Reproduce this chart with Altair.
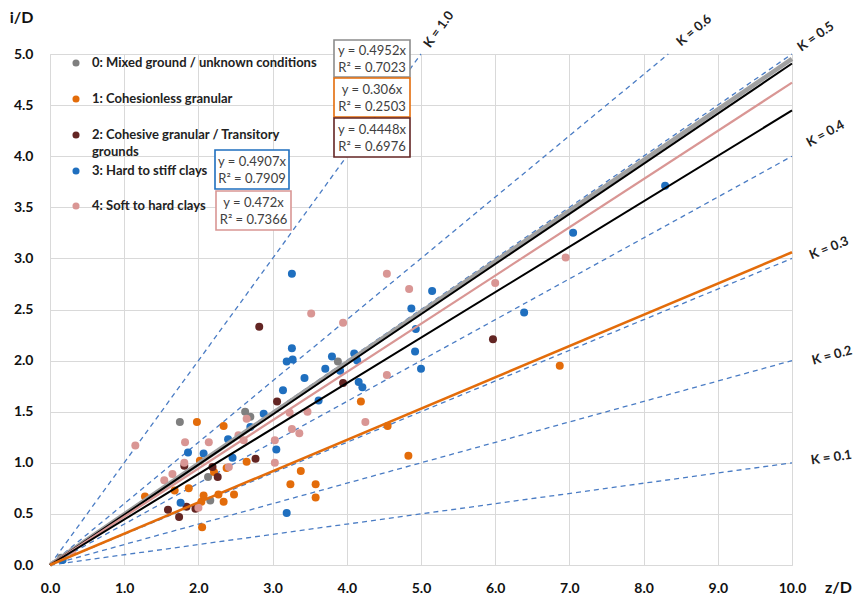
import altair as alt
import pandas as pd

# ---------------- data ----------------
series_names = ["0: Mixed ground / unknown conditions", "1: Cohesionless granular",
                "2: Cohesive granular / Transitory grounds", "3: Hard to stiff clays",
                "4: Soft to hard clays"]
series_colors = ["#7F7F7F", "#E36C0A", "#632523", "#1F6FBF", "#D99694"]

gray_x = [0.15, 1.75, 2.13, 2.16, 2.63, 2.70, 3.88]
gray_y = [0.07, 1.40, 0.86, 0.63, 1.50, 1.45, 1.99]

orange_x = [1.28, 1.68, 1.87, 1.98, 2.02, 2.04, 2.05, 2.07, 2.21, 2.27, 2.34, 2.34, 2.38,
            2.48, 2.65, 3.24, 3.38, 3.58, 3.58, 4.19, 4.55, 4.83, 6.87]
orange_y = [0.67, 0.73, 0.75, 1.40, 1.02, 0.62, 0.37, 0.68, 0.91, 0.69, 1.36, 0.62, 0.95,
            0.69, 1.01, 0.79, 0.92, 0.79, 0.66, 1.60, 1.36, 1.07, 1.95]

brown_x = [1.59, 1.74, 1.81, 1.84, 1.96, 2.19, 2.26, 2.77, 2.82, 3.06, 3.95, 5.97]
brown_y = [0.54, 0.47, 0.97, 0.57, 0.55, 0.96, 0.86, 1.04, 2.33, 1.60, 1.78, 2.21]

blue_x = [0.17, 1.76, 1.86, 2.07, 2.40, 2.46, 2.70, 2.88, 3.05, 3.14, 3.19, 3.19, 3.26,
          3.26, 3.27, 3.43, 3.62, 3.71, 3.80, 3.91, 4.10, 4.14, 4.16, 4.21, 4.87, 4.92,
          4.93, 5.00, 5.15, 6.39, 7.05, 8.29]
blue_y = [0.05, 0.61, 1.10, 1.09, 1.23, 1.05, 1.35, 1.48, 1.13, 1.71, 0.51, 1.99, 2.12,
          2.85, 2.01, 1.83, 1.61, 1.92, 2.04, 1.90, 2.07, 2.00, 1.79, 1.74, 2.51, 2.09,
          2.31, 1.92, 2.68, 2.47, 3.25, 3.71]

pink_x = [0.30, 1.15, 1.54, 1.65, 1.81, 1.82, 2.00, 2.14, 2.41, 2.54, 2.61, 2.65, 3.03,
          3.03, 3.23, 3.26, 3.36, 3.47, 3.52, 3.95, 4.25, 4.54, 4.54, 4.84, 6.00, 6.95]
pink_y = [0.13, 1.17, 0.83, 0.89, 1.00, 1.20, 0.56, 1.20, 0.96, 1.27, 1.22, 1.43, 1.22,
          1.00, 1.49, 1.33, 1.29, 1.50, 2.46, 2.37, 1.40, 1.86, 2.85, 2.70, 2.76, 3.01]

# trend lines (slope through origin)
trend_slopes = [0.4952, 0.4907, 0.472, 0.4448, 0.306]
trend_colors = ["#A0A0A0", "#000000", "#D99694", "#000000", "#E36C0A"]
trend_widths = [4.5, 2.0, 2.2, 2.0, 2.5]
trend_eq = ["y = 0.4952x", "y = 0.306x", "y = 0.4448x", "y = 0.4907x", "y = 0.472x"]
trend_r2 = ["R² = 0.7023", "R² = 0.2503", "R² = 0.6976", "R² = 0.7909", "R² = 0.7366"]
box_colors = ["#8C8C8C", "#E36C0A", "#632523", "#1F6FBF", "#D99694"]

# K reference lines
k_values = [0.1, 0.2, 0.3, 0.4, 0.5, 0.6, 1.0]
k_labels = ["K = 0.1", "K = 0.2", "K = 0.3", "K = 0.4", "K = 0.5", "K = 0.6", "K = 1.0"]
k_label_x = [10.53, 10.54, 10.50, 10.45, 10.32, 8.68, 5.24]
k_label_y = [1.05, 2.05, 3.10, 4.22, 5.17, 5.23, 5.24]
k_label_angle = [352, 345, 338, 331, 325, 320, 306]

X_MAX, Y_MAX = 10.0, 5.0
FONT = "Lato"

# ---------------- tables ----------------
pts = []
for name, xs, ys in zip(series_names,
                        [gray_x, orange_x, brown_x, blue_x, pink_x],
                        [gray_y, orange_y, brown_y, blue_y, pink_y]):
    for a, b in zip(xs, ys):
        pts.append({"x": a, "y": b, "series": name})
pts = pd.DataFrame(pts)

klines = []
for k in k_values:
    xe = min(X_MAX, Y_MAX / k)
    klines.append({"k": k, "x": 0.0, "y": 0.0})
    klines.append({"k": k, "x": xe, "y": k * xe})
klines = pd.DataFrame(klines)

klab = pd.DataFrame({"x": k_label_x, "y": k_label_y, "t": k_labels, "a": k_label_angle})

xscale = alt.Scale(domain=[0, X_MAX], nice=False, zero=True)
yscale = alt.Scale(domain=[0, Y_MAX], nice=False, zero=True)

axis_style = dict(grid=True, gridColor="#D9D9D9", gridWidth=1, domain=False, ticks=False,
                  labelFlush=False, labelOverlap=False,
                  labelFont=FONT, labelFontSize=14, labelFontWeight="bold", labelColor="#111111",
                  titleFont=FONT, titleFontSize=16, titleFontWeight="bold", titleColor="#111111")

xaxis = alt.Axis(values=[i * 1.0 for i in range(11)], format=".1f", title="z/D",
                 titleX=788, titleY=22, titleAlign="center", titleBaseline="middle",
                 labelPadding=16, **axis_style)
yaxis = alt.Axis(values=[i * 0.5 for i in range(11)], format=".1f", title="i/D",
                 titleAngle=0, titleX=-29, titleY=-37, titleAlign="center",
                 titleBaseline="middle", labelPadding=17, **axis_style)

k_layer = alt.Chart(klines).mark_line(color="#4A7CC4", strokeDash=[5, 4], strokeWidth=1.3).encode(
    x=alt.X("x:Q", scale=xscale, axis=xaxis), y=alt.Y("y:Q", scale=yscale, axis=yaxis),
    detail="k:N")

point_layer = alt.Chart(pts).mark_circle(size=64, opacity=1).encode(
    x="x:Q", y="y:Q",
    color=alt.Color("series:N", scale=alt.Scale(domain=series_names, range=series_colors), legend=None))

trend_layers = []
for s, c, w in zip(trend_slopes, trend_colors, trend_widths):
    df = pd.DataFrame({"x": [0.0, X_MAX], "y": [0.0, s * X_MAX]})
    trend_layers.append(alt.Chart(df).mark_line(color=c, strokeWidth=w).encode(x="x:Q", y="y:Q"))

klab_layer = alt.Chart(klab).mark_text(font=FONT, fontSize=13, fontWeight="bold", color="#222222").encode(
    x="x:Q", y="y:Q", text="t:N", angle=alt.Angle("a:Q", scale=None))

# annotation boxes (pixel positions relative to plot area)
box_x1 = [284, 284, 284, 165, 166]
box_x2 = [360, 360, 360, 239, 241]
box_y1 = [-14, 24, 64, 96, 137]
box_y2 = [23, 63, 103, 135, 176]
box_layers = []
for i in range(5):
    bdf = pd.DataFrame({"eq": [trend_eq[i]], "r2": [trend_r2[i]]})
    base = alt.Chart(bdf)
    box_layers.append(base.mark_rect(fill="white", stroke=box_colors[i], strokeWidth=1.6).encode(
        x=alt.value(box_x1[i]), x2=alt.value(box_x2[i]), y=alt.value(box_y1[i]), y2=alt.value(box_y2[i])))
    cx = (box_x1[i] + box_x2[i]) / 2
    h = box_y2[i] - box_y1[i]
    box_layers.append(base.mark_text(font=FONT, fontSize=13, color="#404040", baseline="middle").encode(
        x=alt.value(cx), y=alt.value(box_y1[i] + h * 0.30), text="eq:N"))
    box_layers.append(base.mark_text(font=FONT, fontSize=13, color="#404040", baseline="middle").encode(
        x=alt.value(cx), y=alt.value(box_y1[i] + h * 0.75), text="r2:N"))

# legend (manual)
leg_rows_y = [9, 45, 81, 117, 152]
leg_lines = ["0: Mixed ground / unknown conditions", "1: Cohesionless granular",
             "2: Cohesive granular / Transitory", "3: Hard to stiff clays", "4: Soft to hard clays"]
leg_layers = []
for i in range(5):
    ldf = pd.DataFrame({"t": [leg_lines[i]], "series": [series_names[i]]})
    b = alt.Chart(ldf)
    leg_layers.append(b.mark_circle(size=50, opacity=1, color=series_colors[i]).encode(
        x=alt.value(26), y=alt.value(leg_rows_y[i])))
    leg_layers.append(b.mark_text(font=FONT, fontSize=13, fontWeight="bold", color="#222222",
                                  align="left", baseline="middle").encode(
        x=alt.value(42), y=alt.value(leg_rows_y[i]), text="t:N"))
extra = alt.Chart(pd.DataFrame({"t": ["grounds"]})).mark_text(
    font=FONT, fontSize=13, fontWeight="bold", color="#222222", align="left", baseline="middle").encode(
    x=alt.value(42), y=alt.value(98), text="t:N")

chart = alt.layer(k_layer, point_layer, *trend_layers, *box_layers, *leg_layers, extra, klab_layer).properties(
    width=742, height=511,
    padding={"left": 42, "top": 46, "right": 62, "bottom": 30},
    autosize=alt.AutoSizeParams(type="none"),
).configure_view(stroke=None).configure(background="white")

chart.save("out.html", embed_options={"renderer": "svg", "actions": False})
